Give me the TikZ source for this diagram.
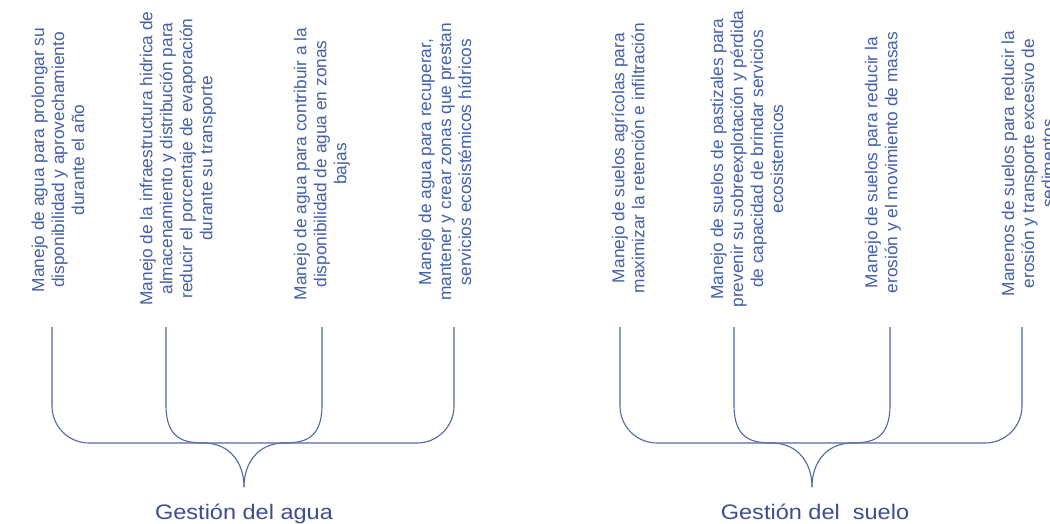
\documentclass[tikz,border=0pt]{standalone}
\usepackage{fontspec}
\setmainfont{Liberation Sans}
\usetikzlibrary{calc}
\definecolor{txtblue}{HTML}{4460A8}
\definecolor{lblblue}{HTML}{3D4E8E}
\definecolor{lineblue}{HTML}{5567A5}
\tikzset{
  item/.style={rotate=90, align=center, inner sep=0pt, text=txtblue,
    font=\fontsize{17.3}{20}\selectfont},
  title/.style={anchor=base, inner sep=0pt, text=lblblue, xscale=1.12,
    font=\fontsize{21}{24}\selectfont},
  brace/.style={draw=lineblue, line width=1.1pt},
  outer/.style={brace, rounded corners=37pt}
}
\begin{document}
\begin{tikzpicture}[x=1pt, y=-1pt]
\useasboundingbox[fill=white] (0,0) rectangle (1050,523);

% ---- items: Gestion del agua
\node[item] (w1) at (58,160) {Manejo de agua para prolongar su\\disponibilidad y aprovechamiento\\durante el año};
\node[item] (w2) at (178,158.5) {Manejo de la infraestructura hidrica de\\almacenamiento y distribución para\\reducir el porcentaje de evaporación\\durante su transporte};
\node[item] (w3) at (322,164) {Manejo de agua para contribuir a la\\disponibilidad de agua en zonas\\bajas};
\node[item] (w4) at (445,162) {Manejo de agua para recuperar,\\mantener y crear zonas que prestan\\servicios ecosistémicos hídricos};

% ---- items: Gestion del suelo
\node[item] (s1) at (628,158) {Manejo de suelos agrícolas para\\maximizar la retención e infiltración};
\node[item] (s2) at (747,159) {Manejo de suelos de pastizales para\\prevenir su sobreexplotación y pérdida\\de capacidad de brindar servicios\\ecosistemicos};
\node[item] (s3) at (883,162.5) {Manejo de suelos para reducir la\\erosión y el movimiento de masas};
\node[item] (s4) at (1028,163.5) {Manenos de suelos para reducir la\\erosión y transporte excesivo de\\sedimentos};

% ---- titles
\node[title] (gA) at (244,519) {Gestión del agua};
\node[title] (gS) at (815,519) {Gestión del\ \ suelo};

% ---- brace end points
\coordinate (a1) at (52,327);
\coordinate (a2) at (166,327);
\coordinate (a3) at (322,327);
\coordinate (a4) at (454,327);
\coordinate (hA) at (244,443);
\coordinate (tipA) at (244,487);

\coordinate (b1) at (620,327);
\coordinate (b2) at (734,327);
\coordinate (b3) at (890,327);
\coordinate (b4) at (1022,327);
\coordinate (hS) at (812,443);
\coordinate (tipS) at (812,487);

% ---- brace: agua
\draw[outer] (a1) |- (hA) -| (a4);
\draw[brace] (a2) -- ++(0,78) .. controls +(0,35) and +(-20,0) .. ++(39,38)
  .. controls +(27,1) and +(0,-22) .. (tipA);
\draw[brace] (a3) -- ++(0,78) .. controls +(0,35) and +(20,0) .. ++(-39,38)
  .. controls +(-27,1) and +(0,-22) .. (tipA);

% ---- brace: suelo
\draw[outer] (b1) |- (hS) -| (b4);
\draw[brace] (b2) -- ++(0,78) .. controls +(0,35) and +(-20,0) .. ++(39,38)
  .. controls +(27,1) and +(0,-22) .. (tipS);
\draw[brace] (b3) -- ++(0,78) .. controls +(0,35) and +(20,0) .. ++(-39,38)
  .. controls +(-27,1) and +(0,-22) .. (tipS);
\end{tikzpicture}
\end{document}
